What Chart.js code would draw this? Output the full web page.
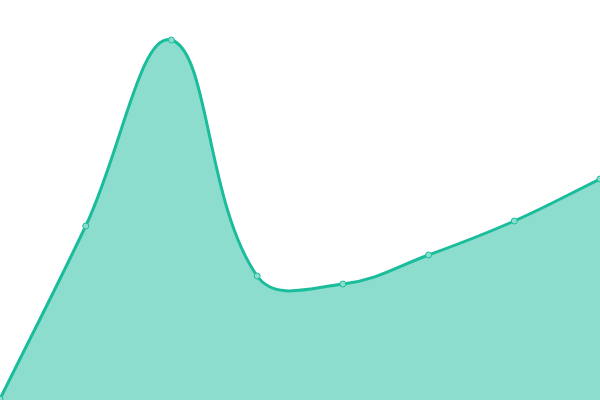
<!DOCTYPE html>
<html>
<head>
<meta charset="utf-8">
<script src="https://cdn.jsdelivr.net/npm/chart.js@4/dist/chart.umd.min.js"></script>
<style>
  html, body { margin: 0; padding: 0; background: #fff; }
  #wrap { width: 600px; height: 400px; }
</style>
</head>
<body>
<div id="wrap"><canvas id="areaChart"></canvas></div>
<script>
// valores
const labels = ['1', '2', '3', '4', '5', '6', '7', '8'];
const values = [1, 174, 360, 124, 116, 145, 179, 221];
const yMin = 0;
const yMax = 400;

const ctx = document.getElementById('areaChart').getContext('2d');
const chart = new Chart(ctx, {
    type: 'line',
    data: {
        labels: labels,
        datasets: [{
            data: values,
            borderColor: '#1abc9c',
            backgroundColor: 'rgba(26, 188, 156, 0.5)',
            pointBackgroundColor: 'rgba(140, 221, 205, 1)',
            pointBorderColor: '#1abc9c',
            pointRadius: 3,
            pointBorderWidth: 1,
            borderWidth: 3,
            tension: 0.4,
            fill: true
        }]
    },
    options: {
        responsive: true,
        maintainAspectRatio: false,
        animation: false,
        layout: { padding: 0, autoPadding: false },
        plugins: {
            legend: { display: false },
            tooltip: { enabled: false }
        },
        scales: {
            x: { display: false, offset: false },
            y: { display: false, min: yMin, max: yMax }
        }
    }
});
</script>
</body>
</html>
